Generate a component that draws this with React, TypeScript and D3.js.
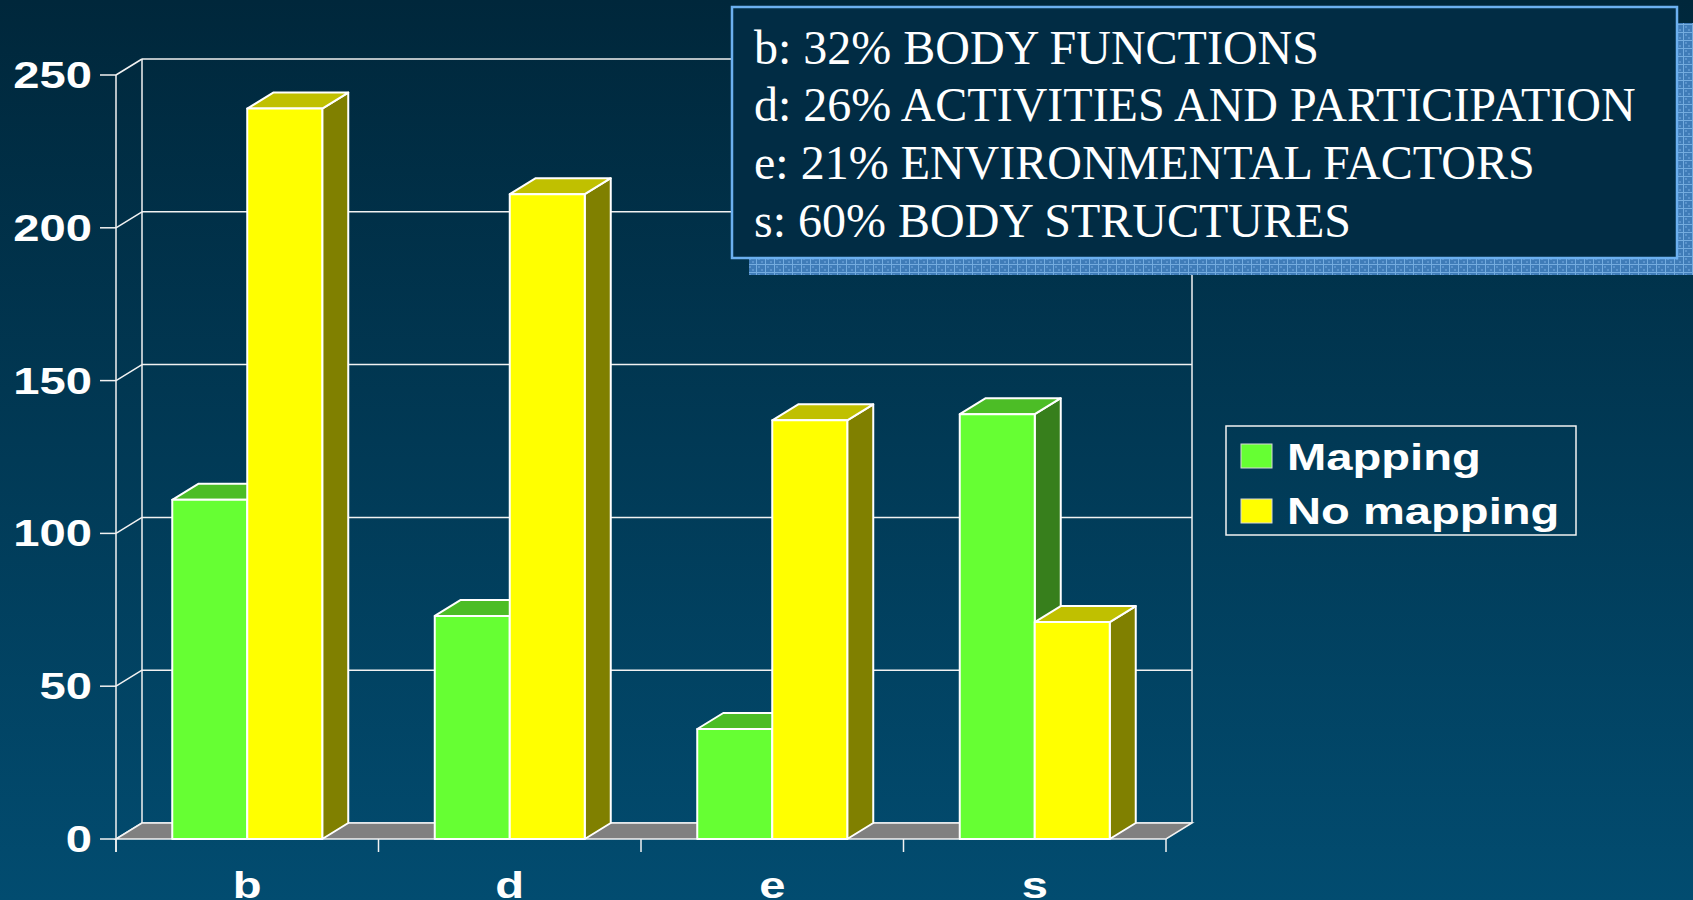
import React from 'react';
import * as d3 from 'd3';

// chart data
const categories = ['b', 'd', 'e', 's'];
const seriesNames = ['Mapping', 'No mapping'];
const mappingValues = [111, 73, 36, 139];
const noMappingValues = [239, 211, 137, 71];
const yTicks = [0, 50, 100, 150, 200, 250];
const noteLines = [
  'b: 32% BODY FUNCTIONS',
  'd: 26% ACTIVITIES AND PARTICIPATION',
  'e: 21% ENVIRONMENTAL FACTORS',
  's: 60% BODY STRUCTURES',
];

const W = 1693;
const H = 900;
const DX = 26; // 3d depth offset
const DY = -16;
const LINE = '#f2f2f2';
const SANS = 'Arial, "Liberation Sans", sans-serif';
const SX = 1.31; // the original slide text is stretched sideways

const colors: Record<string, { front: string; top: string; side: string }> = {
  Mapping: { front: '#66ff33', top: '#4cbd26', side: '#377f1c' },
  'No mapping': { front: '#ffff00', top: '#c0c000', side: '#808000' },
};

const StretchText: React.FC<{
  x: number; y: number; anchor?: string; size: number; children: React.ReactNode;
}> = ({ x, y, anchor = 'start', size, children }) => (
  <text
    transform={`translate(${x},${y}) scale(${SX},1)`}
    textAnchor={anchor}
    fontFamily={SANS}
    fontWeight="bold"
    fontSize={size}
    fill="#ffffff"
  >
    {children}
  </text>
);

const App: React.FC = () => {
  const x = d3.scaleBand<string>().domain(categories).range([116, 1166]);
  const xs = d3
    .scaleBand<string>()
    .domain(seriesNames)
    .range([0, x.bandwidth()])
    .paddingOuter(0.75);
  const y = d3.scaleLinear().domain([0, 250]).range([839, 75]);
  const y0 = y(0);
  const [xl, xr] = x.range();

  const rows = categories.map((c, i) => ({
    cat: c,
    vals: [
      { s: seriesNames[0], v: mappingValues[i] },
      { s: seriesNames[1], v: noMappingValues[i] },
    ],
  }));

  const pts = (p: number[][]) => p.map((q) => q.join(',')).join(' ');

  return (
    <div style={{ position: 'absolute', left: 0, top: 0 }}>
      <svg width={W} height={H} style={{ display: 'block' }}>
        <defs>
          <linearGradient id="bg" x1="0" y1="0" x2="0" y2="1">
            <stop offset="0" stopColor="#00273b" />
            <stop offset="1" stopColor="#024c70" />
          </linearGradient>
          <pattern id="grid" width="9" height="8" patternUnits="userSpaceOnUse">
            <rect width="9" height="8" fill="#3f7cb8" />
            <rect x="2" y="2" width="2" height="2" fill="#5a93cc" />
            <rect x="5" y="5" width="2" height="2" fill="#5a93cc" />
            <line x1="0.5" y1="0" x2="0.5" y2="8" stroke="#74acdf" strokeWidth={1} />
            <line x1="0" y1="0.5" x2="9" y2="0.5" stroke="#74acdf" strokeWidth={1} />
          </pattern>
        </defs>
        <rect width={W} height={H} fill="url(#bg)" />

        {/* walls */}
        <g stroke={LINE} strokeWidth={1.5} fill="none">
          {yTicks.map((t) => (
            <g key={t}>
              <line x1={xl + DX} x2={xr + DX} y1={y(t) + DY} y2={y(t) + DY} />
              <line x1={xl} x2={xl + DX} y1={y(t)} y2={y(t) + DY} />
              <line x1={100} x2={xl} y1={y(t)} y2={y(t)} />
            </g>
          ))}
          <line x1={xl + DX} x2={xl + DX} y1={y(250) + DY} y2={y0 + DY} />
          <line x1={xr + DX} x2={xr + DX} y1={y(250) + DY} y2={y0 + DY} />
          <line x1={xl} x2={xl} y1={y(250)} y2={y0 + 13} />
        </g>
        <polygon
          points={pts([[xl, y0], [xr, y0], [xr + DX, y0 + DY], [xl + DX, y0 + DY]])}
          fill="#808080"
          stroke={LINE}
          strokeWidth={1.5}
        />
        <g stroke={LINE} strokeWidth={1.5}>
          {[...categories.map((c) => x(c)!), xr].map((px, i) => (
            <line key={i} x1={px} x2={px} y1={y0} y2={y0 + 13} />
          ))}
        </g>

        {/* bars */}
        {rows.map((r) => (
          <g key={r.cat}>
            {r.vals.map((d) => {
              const bx = x(r.cat)! + xs(d.s)!;
              const bw = xs.bandwidth();
              const yv = y(d.v);
              const col = colors[d.s];
              return (
                <g key={d.s} stroke="#ffffff" strokeWidth={2} strokeLinejoin="round">
                  <polygon
                    points={pts([[bx + bw, yv], [bx + bw + DX, yv + DY], [bx + bw + DX, y0 + DY], [bx + bw, y0]])}
                    fill={col.side}
                  />
                  <polygon
                    points={pts([[bx, yv], [bx + DX, yv + DY], [bx + bw + DX, yv + DY], [bx + bw, yv]])}
                    fill={col.top}
                  />
                  <rect x={bx} y={yv} width={bw} height={y0 - yv} fill={col.front} />
                </g>
              );
            })}
          </g>
        ))}

        {/* axis labels */}
        {yTicks.map((t) => (
          <StretchText key={t} x={92} y={y(t) + 13} anchor="end" size={36}>
            {t}
          </StretchText>
        ))}
        {categories.map((c) => (
          <StretchText key={c} x={x(c)! + x.bandwidth() / 2} y={898} anchor="middle" size={36}>
            {c}
          </StretchText>
        ))}

        {/* legend */}
        <rect x={1226} y={426} width={350} height={109} fill="none" stroke={LINE} strokeWidth={1.5} />
        {seriesNames.map((s, i) => (
          <g key={s}>
            <rect
              x={1241}
              y={444 + i * 55}
              width={31}
              height={24}
              fill={colors[s].front}
              stroke="#d8d8d8"
              strokeWidth={1}
            />
            <StretchText x={1287} y={470 + i * 53.5} size={36}>
              {s}
            </StretchText>
          </g>
        ))}

        {/* note box */}
        <rect x={749} y={23} width={946} height={252} fill="url(#grid)" />
        <rect x={732} y={7} width={945} height={251} fill="#012c44" stroke="#6cb0f0" strokeWidth={2.5} />
        {noteLines.map((t, i) => (
          <text
            key={t}
            x={754}
            y={63.5 + i * 57.7}
            fontFamily='"Times New Roman", "Liberation Serif", serif'
            fontSize={48}
            fill="#ffffff"
          >
            {t}
          </text>
        ))}
      </svg>
    </div>
  );
};

export default App;
